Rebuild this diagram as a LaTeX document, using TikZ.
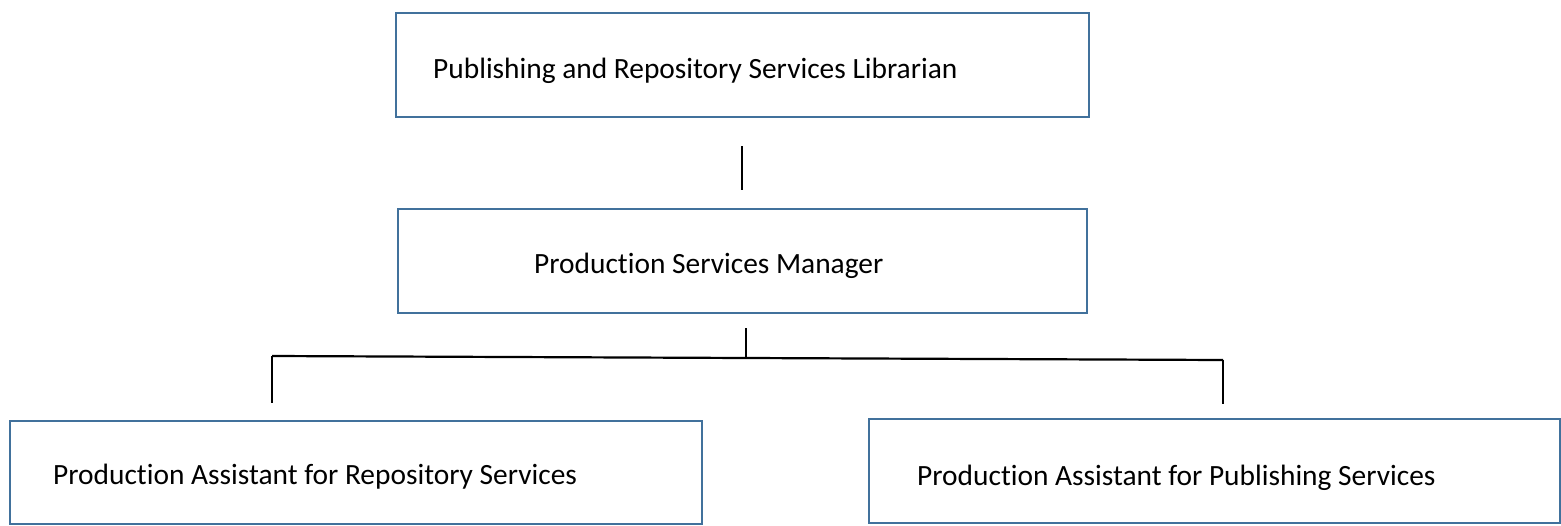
\documentclass[tikz,border=0pt]{standalone}
\usepackage{fontspec}
\setmainfont{Carlito}[Ligatures=NoCommon]
\definecolor{boxblue}{HTML}{41719C}
\begin{document}
\begin{tikzpicture}[x=1pt,y=-1pt,
  box/.style={draw=boxblue, line width=2.2pt, fill=white, anchor=north west, inner sep=0pt},
  conn/.style={draw=black, line width=2.2pt},
  lbl/.style={anchor=base west, inner sep=0pt, font=\fontsize{29.4}{34}\selectfont}]
\useasboundingbox (0,0) rectangle (1561,525);
% boxes
\node[box, minimum width=693pt, minimum height=104pt] (top) at (395,12) {};
\node[box, minimum width=689pt, minimum height=104pt] (mid) at (397,208) {};
\node[box, minimum width=692pt, minimum height=103pt] (bl) at (9,420) {};
\node[box, minimum width=691pt, minimum height=104pt] (br) at (868,418) {};
% labels
\node[lbl] (toptxt) at (433,78) {Publishing and Repository Services Librarian};
\node[lbl] (midtxt) at (534,273) {Production Services Manager};
\node[lbl] (bltxt) at (53,484) {Production Assistant for Repository Services};
\node[lbl] (brtxt) at (917,485) {Production Assistant for Publishing Services};
% connector points
\coordinate (c1a) at (742,146);
\coordinate (c1b) at (742,190);
\coordinate (c2a) at (746,328);
\coordinate (c2b) at (746,357.5);
\coordinate (hl) at (272,356);
\coordinate (hr) at (1223,360);
\coordinate (vl) at (272,403);
\coordinate (vr) at (1223,404);
% connectors
\draw[conn] (c1a) -- (c1b);
\draw[conn] (c2a) -- (c2b);
\draw[conn] (hl) -- (hr);
\draw[conn] (hl) -- (vl);
\draw[conn] (hr) -- (vr);
\end{tikzpicture}
\end{document}
